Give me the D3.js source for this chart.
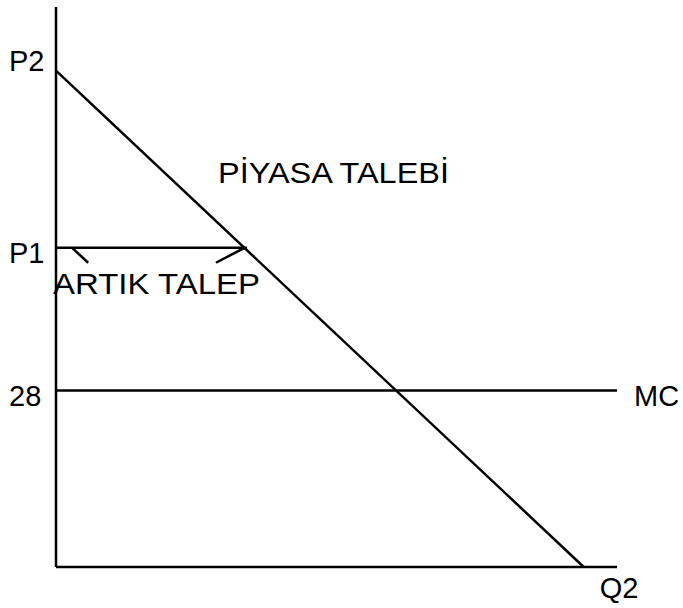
<!DOCTYPE html>
<html>
<head>
<meta charset="utf-8">
<script src="https://cdn.jsdelivr.net/npm/d3@7"></script>
<style>
  html, body { margin: 0; padding: 0; background: #fff; }
  svg { display: block; }
  text { font-family: "Liberation Sans", Arial, sans-serif; font-size: 29px; fill: #000; }
</style>
</head>
<body>
<svg id="chart" width="683" height="608"></svg>
<script>
// ---- data (economic units) ----
const priceLevels = [
  { name: "P2", value: 78.8 },
  { name: "P1", value: 50.7 },
  { name: "28", value: 28 }
];
const mcValue = 28;
const mcLabel = "MC";
const demandIntercept = 78.8;   // P2
const q2 = 100;                 // demand meets the quantity axis
const qLabel = "Q2";
const axisMaxQ = 106.3;
const axisMaxP = 88.9;
const p1 = 50.7;
const demandLabel = "PİYASA TALEBİ";
const residualLabel = "ARTIK TALEP";
// small pointer strokes of the residual-demand annotation: [q0, p0, q1, p1]
const pointerLeft = [3.0, 50.7, 6.1, 48.3];
const pointerRight = [30.3, 48.3, 35.8, 50.7];

// ---- scales ----
const svg = d3.select("#chart");
const x = d3.scaleLinear().domain([0, axisMaxQ]).range([56, 617]);
const y = d3.scaleLinear().domain([0, axisMaxP]).range([567, 7]);

const demandQ = p => (demandIntercept - p) / demandIntercept * q2;

const line = (q0, pA, q1, pB) => svg.append("line")
  .attr("x1", x(q0)).attr("y1", y(pA))
  .attr("x2", x(q1)).attr("y2", y(pB))
  .attr("stroke", "#000").attr("stroke-width", 2.5);

// axes
line(0, 0, 0, axisMaxP);
line(0, 0, axisMaxQ, 0);

// MC
line(0, mcValue, axisMaxQ, mcValue);

// demand
line(0, demandIntercept, q2, 0);

// P1 horizontal (residual demand segment)
line(0, p1, demandQ(p1) + 0.5, p1);

// pointers
line(...pointerLeft);
line(...pointerRight);

// price labels
priceLevels.forEach(d => {
  svg.append("text")
    .attr("x", 9)
    .attr("y", y(d.value) + (d.name === "P2" ? 0 : 15.5))
    .text(d.name);
});

svg.append("text").attr("x", 634).attr("y", y(mcValue) + 15.5).text(mcLabel);
svg.append("text").attr("x", x(q2) + 16).attr("y", y(0) + 31).text(qLabel);

svg.append("text").attr("x", 218).attr("y", 183)
  .attr("textLength", 231).attr("lengthAdjust", "spacingAndGlyphs")
  .text(demandLabel);
svg.append("text").attr("x", 53).attr("y", 294)
  .attr("textLength", 207).attr("lengthAdjust", "spacingAndGlyphs")
  .text(residualLabel);
</script>
</body>
</html>
